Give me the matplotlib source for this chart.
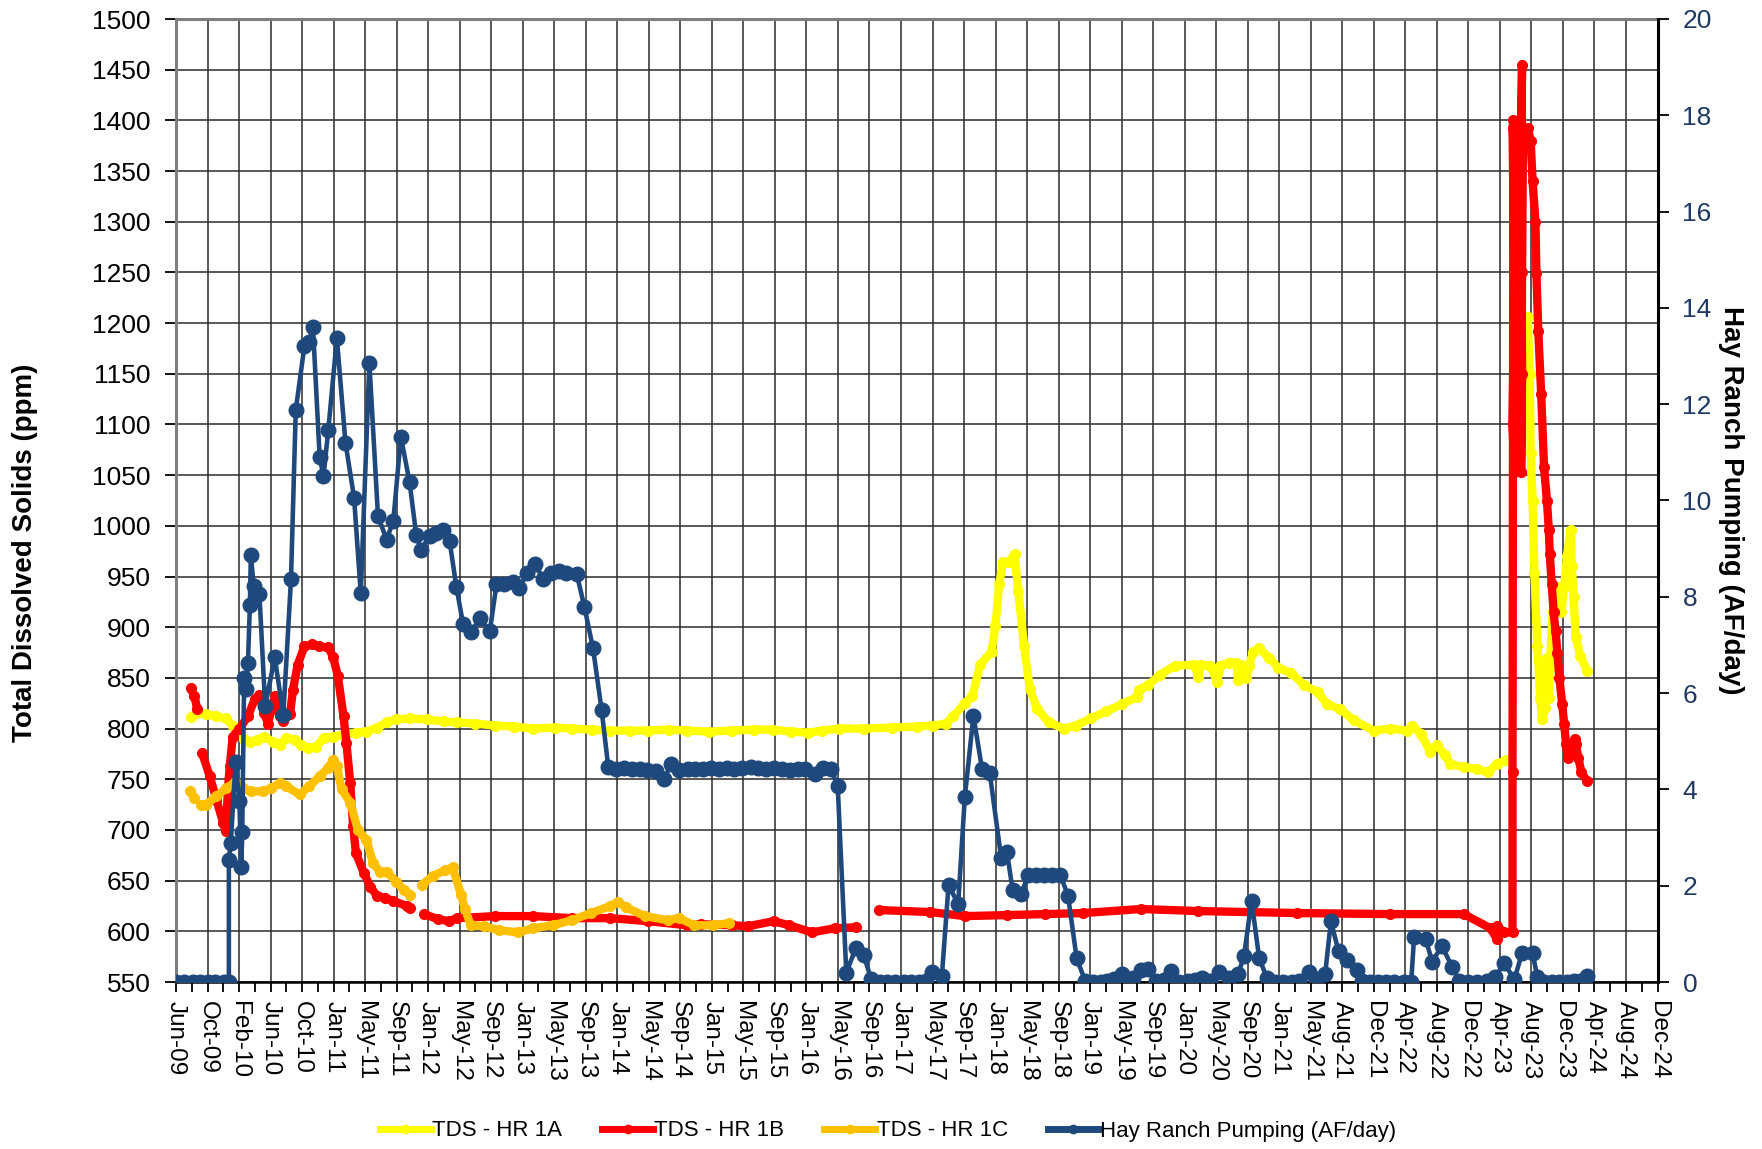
import numpy as np
import matplotlib
matplotlib.use("Agg")
import matplotlib.pyplot as plt
from matplotlib.lines import Line2D

plt.rcParams['font.family'] = ['Liberation Sans', 'DejaVu Sans']

nan = float('nan')

# ---------------- data ----------------
tick_labels = ["Jun-09", "Oct-09", "Feb-10", "Jun-10", "Oct-10", "Jan-11", "May-11", "Sep-11",
               "Jan-12", "May-12", "Sep-12", "Jan-13", "May-13", "Sep-13", "Jan-14", "May-14",
               "Sep-14", "Jan-15", "May-15", "Sep-15", "Jan-16", "May-16", "Sep-16", "Jan-17",
               "May-17", "Sep-17", "Jan-18", "May-18", "Sep-18", "Jan-19", "May-19", "Sep-19",
               "Jan-20", "May-20", "Sep-20", "Jan-21", "May-21", "Aug-21", "Dec-21", "Apr-22",
               "Aug-22", "Dec-22", "Apr-23", "Aug-23", "Dec-23", "Apr-24", "Aug-24", "Dec-24"]
axis_start_year = 2009.417
axis_end_year = 2024.917

# TDS - HR 1A (ppm)
hr1a_year = [2009.57, 2009.63, 2009.73, 2009.84, 2009.94, 2010.01, 2010.06, 2010.13, 2010.19, 2010.26,
             2010.34, 2010.43, 2010.50, 2010.57, 2010.66, 2010.73, 2010.80, 2010.88, 2010.97, 2011.06,
             2011.16, 2011.30, 2011.41, 2011.52, 2011.62, 2011.72, 2011.87, 2012.04, 2012.22, 2012.36,
             2012.55, 2012.75, 2012.95, 2013.15, 2013.38, 2013.56, 2013.77, 2013.96, 2014.17, 2014.36,
             2014.57, 2014.76, 2014.99, 2015.23, 2015.46, 2015.66, 2015.85, 2016.03, 2016.18, 2016.35,
             2016.61, 2016.91, 2017.17, 2017.34, 2017.47, 2017.55, 2017.67, 2017.75, 2017.83, 2017.95,
             2017.99, 2018.03, 2018.07, 2018.13, 2018.19, 2018.23, 2018.29, 2018.35, 2018.43, 2018.55,
             2018.71, 2018.83, 2018.99, 2019.15, 2019.31, 2019.47, 2019.49, 2019.59, 2019.71, 2019.87,
             2020.07, 2020.11, 2020.14, 2020.24, 2020.31, 2020.34, 2020.43, 2020.51, 2020.53, 2020.56,
             2020.61, 2020.64, 2020.69, 2020.75, 2020.85, 2020.95, 2021.08, 2021.22, 2021.36, 2021.46,
             2021.60, 2021.74, 2021.95, 2022.12, 2022.30, 2022.35, 2022.44, 2022.54, 2022.61, 2022.69,
             2022.75, 2022.89, 2023.03, 2023.14, 2023.24, 2023.33, 2023.45,
             2023.56, 2023.58, 2023.59, 2023.61, 2023.63, 2023.66, 2023.69, 2023.71, 2023.74, 2023.76,
             2023.78, 2023.79, 2023.82, 2023.87, 2023.91, 2023.94, 2023.97, 2024.01, 2024.02, 2024.04,
             2024.06, 2024.11, 2024.18]
hr1a_tds = [811, 815, 814, 812, 810, 803, 799, 790, 787, 789,
            792, 787, 784, 791, 789, 784, 781, 782, 791, 792,
            794, 796, 797, 801, 806, 809, 810, 809, 807, 806,
            805, 803, 802, 800, 801, 800, 799, 798, 798, 798,
            799, 798, 797, 798, 799, 799, 797, 796, 798, 800,
            800, 801, 802, 803, 805, 812, 825, 832, 863, 876,
            901, 943, 964, 964, 972, 936, 881, 839, 819, 806,
            800, 803, 810, 817, 824, 831, 838, 843, 853, 862,
            863, 851, 863, 862, 846, 862, 865, 865, 848, 863,
            850, 862, 876, 879, 870, 860, 855, 843, 836, 824,
            819, 808, 798, 800, 798, 803, 795, 777, 784, 774,
            765, 762, 760, 757, 765, 769, nan,
            1206, 1150, 1072, 1025, 953, 881, 830, 809, 820, 870,
            830, 860, 915, 940, 915, 940, 970, 996, 960, 930,
            890, 872, 857]

# TDS - HR 1B (ppm)
hr1b_year = [2009.57, 2009.61, 2009.64, 2009.66,
             2009.69, 2009.77, 2009.84, 2009.91, 2009.94, 2009.96, 2009.98, 2010.01, 2010.08, 2010.17,
             2010.24, 2010.29, 2010.34, 2010.38, 2010.45, 2010.50, 2010.54, 2010.61, 2010.64, 2010.69,
             2010.76, 2010.84, 2010.91, 2011.01, 2011.06, 2011.11, 2011.17, 2011.20, 2011.24, 2011.27,
             2011.30, 2011.38, 2011.45, 2011.52, 2011.60, 2011.69, 2011.83, 2011.87, 2011.94,
             2012.01, 2012.16, 2012.27, 2012.36, 2012.75, 2013.15, 2013.56, 2013.96, 2014.36, 2014.76,
             2014.91, 2015.23, 2015.40, 2015.67, 2015.83, 2016.07, 2016.31, 2016.53, 2016.65,
             2016.77, 2017.31, 2017.67, 2018.11, 2018.51, 2018.91, 2019.51, 2020.11, 2021.15, 2022.12,
             2022.89, 2023.17, 2023.24, 2023.24, 2023.31, 2023.40, 2023.40, 2023.41, 2023.40, 2023.42,
             2023.40, 2023.42, 2023.43, 2023.42, 2023.48, 2023.50, 2023.49, 2023.50, 2023.49, 2023.50,
             2023.51, 2023.56, 2023.59, 2023.61, 2023.64, 2023.65, 2023.67, 2023.70, 2023.73, 2023.76,
             2023.78, 2023.79, 2023.81, 2023.83, 2023.85, 2023.87, 2023.89, 2023.92, 2023.94, 2023.96,
             2023.98, 2024.01, 2024.05, 2024.06, 2024.09, 2024.12, 2024.18]
hr1b_tds = [840, 832, 819, nan,
            776, 753, 730, 707, 699, 740, 763, 792, 800, 812,
            829, 833, 815, 805, 832, 812, 807, 814, 838, 863,
            881, 883, 881, 880, 871, 852, 812, 786, 746, 704,
            677, 658, 644, 635, 633, 630, 625, 623, nan,
            617, 612, 610, 613, 615, 615, 613, 613, 610, 606,
            607, 606, 605, 610, 606, 599, 603, 604, nan,
            621, 619, 615, 616, 617, 618, 622, 620, 618, 617,
            617, 603, 592, 605, 599, 599, 757, 1400, 1392, 1250,
            1100, 1053, 1200, 1350, 1300, 1455, 1350, 1150, 1053, 1250,
            1390, 1392, 1380, 1340, 1300, 1249, 1192, 1130, 1058, 1025,
            996, 972, 943, 915, 896, 875, 850, 824, 805, 785,
            771, 776, 790, 785, 771, 757, 748]

# TDS - HR 1C (ppm)
hr1c_year = [2009.56, 2009.61, 2009.65,
             2009.68, 2009.73, 2009.84, 2009.94, 2010.03, 2010.12, 2010.20, 2010.33, 2010.41, 2010.50,
             2010.57, 2010.71, 2010.81, 2010.92, 2011.01, 2011.06, 2011.10, 2011.15, 2011.24, 2011.32,
             2011.41, 2011.48, 2011.55, 2011.62, 2011.72, 2011.80, 2011.87, 2011.93,
             2011.99, 2012.11, 2012.23, 2012.31, 2012.40, 2012.44, 2012.50, 2012.64, 2012.80, 2013.00,
             2013.15, 2013.36, 2013.56, 2013.76, 2013.96, 2014.04, 2014.12, 2014.32, 2014.56, 2014.68,
             2014.84, 2015.04, 2015.20]
hr1c_tds = [738, 732, nan,
            725, 725, 733, 741, 747, 741, 738, 738, 741, 746,
            743, 735, 743, 753, 761, 769, 763, 740, 727, 700,
            690, 667, 659, 659, 649, 641, 636, nan,
            646, 655, 660, 663, 636, 622, 606, 605, 601, 599,
            603, 606, 611, 618, 625, 629, 624, 615, 611, 613,
            606, 606, 608]

# Hay Ranch Pumping (AF/day)
pump_year = [2009.42, 2009.50, 2009.59, 2009.67, 2009.75, 2009.83, 2009.92, 2009.97, 2009.97, 2009.99,
             2010.04, 2010.08, 2010.10, 2010.11, 2010.13, 2010.15, 2010.17, 2010.19, 2010.20, 2010.23,
             2010.29, 2010.35, 2010.45, 2010.54, 2010.62, 2010.67, 2010.76, 2010.81, 2010.85, 2010.92,
             2010.96, 2011.01, 2011.10, 2011.19, 2011.28, 2011.35, 2011.44, 2011.53, 2011.62, 2011.69,
             2011.77, 2011.86, 2011.93, 2011.98, 2012.07, 2012.14, 2012.21, 2012.28, 2012.35, 2012.42,
             2012.50, 2012.60, 2012.70, 2012.77, 2012.85, 2012.94, 2013.01, 2013.09, 2013.17, 2013.26,
             2013.34, 2013.42, 2013.50, 2013.61, 2013.69, 2013.78, 2013.87, 2013.94, 2014.02, 2014.10,
             2014.19, 2014.27, 2014.35, 2014.44, 2014.52, 2014.60, 2014.68, 2014.77, 2014.85, 2014.93,
             2015.01, 2015.10, 2015.18, 2015.26, 2015.34, 2015.43, 2015.51, 2015.59, 2015.67, 2015.76,
             2015.84, 2015.92, 2016.00, 2016.10, 2016.19, 2016.27, 2016.34, 2016.43, 2016.53, 2016.61,
             2016.69, 2016.78, 2016.86, 2016.94, 2017.03, 2017.11, 2017.19, 2017.26, 2017.33, 2017.43,
             2017.50, 2017.60, 2017.67, 2017.76, 2017.85, 2017.93, 2018.05, 2018.11, 2018.17, 2018.26,
             2018.33, 2018.41, 2018.50, 2018.58, 2018.67, 2018.75, 2018.84, 2018.93, 2019.01, 2019.09,
             2019.16, 2019.23, 2019.31, 2019.37, 2019.43, 2019.51, 2019.59, 2019.67, 2019.75, 2019.83,
             2019.91, 2020.00, 2020.08, 2020.15, 2020.24, 2020.33, 2020.43, 2020.53, 2020.59, 2020.67,
             2020.75, 2020.83, 2020.91, 2021.00, 2021.09, 2021.17, 2021.27, 2021.34, 2021.44, 2021.50,
             2021.58, 2021.67, 2021.77, 2021.83, 2021.91, 2021.99, 2022.08, 2022.16, 2022.26, 2022.34,
             2022.37, 2022.49, 2022.56, 2022.66, 2022.77, 2022.84, 2022.93, 2023.03, 2023.13, 2023.22,
             2023.31, 2023.42, 2023.50, 2023.61, 2023.66, 2023.73, 2023.81, 2023.89, 2023.97, 2024.04,
             2024.11, 2024.18]
pump_afd = [0, 0, 0, 0, 0, 0, 0, 0, 2.54, 2.89,
            4.56, 3.76, 2.38, 3.11, 6.31, 6.09, 6.63, 7.83, 8.87, 8.23,
            8.05, 5.73, 6.74, 5.55, 8.36, 11.88, 13.2, 13.3, 13.6, 10.9,
            10.5, 11.46, 13.37, 11.2, 10.06, 8.07, 12.86, 9.68, 9.19, 9.57,
            11.32, 10.39, 9.29, 8.98, 9.26, 9.33, 9.38, 9.15, 8.21, 7.44,
            7.26, 7.56, 7.28, 8.26, 8.26, 8.31, 8.19, 8.49, 8.68, 8.38,
            8.49, 8.54, 8.50, 8.47, 7.79, 6.93, 5.65, 4.46, 4.42, 4.45,
            4.42, 4.43, 4.40, 4.38, 4.22, 4.52, 4.40, 4.42, 4.43, 4.42,
            4.44, 4.43, 4.45, 4.43, 4.45, 4.47, 4.45, 4.43, 4.44, 4.42,
            4.41, 4.43, 4.42, 4.31, 4.45, 4.42, 4.07, 0.19, 0.71, 0.57,
            0.06, 0, 0, 0, 0, 0, 0, 0.02, 0.20, 0.13,
            2.02, 1.61, 3.84, 5.53, 4.42, 4.35, 2.58, 2.71, 1.91, 1.82,
            2.22, 2.22, 2.22, 2.22, 2.22, 1.79, 0.49, 0.02, 0, 0,
            0.02, 0.07, 0.17, 0.05, 0.09, 0.24, 0.28, 0.02, 0.05, 0.22,
            0, 0.02, 0.05, 0.09, 0.02, 0.20, 0.08, 0.17, 0.53, 1.68,
            0.49, 0.09, 0, 0, 0, 0.02, 0.20, 0.06, 0.17, 1.26,
            0.64, 0.46, 0.24, 0.02, 0, 0, 0, 0, 0, 0,
            0.93, 0.90, 0.42, 0.75, 0.31, 0.02, 0, 0, 0.02, 0.10,
            0.39, 0.06, 0.60, 0.60, 0.10, 0, 0, 0, 0, 0.02,
            0.02, 0.13]

# ---------------- figure ----------------
W, H = 1762, 1149
fig = plt.figure(figsize=(W / 100, H / 100), dpi=100)
L, R, T, B = 176, 1657.5, 19, 982
ax = fig.add_axes([L / W, 1 - B / H, (R - L) / W, (B - T) / H])
ax2 = ax.twinx()

YELLOW = '#FFFF00'
RED = '#FF0000'
ORANGE = '#FFC000'
BLUE = '#1F497D'

lw_tds = 6.0
ms_tds = 7.0
ax.plot(hr1a_year, hr1a_tds, color=YELLOW, lw=lw_tds, marker='o', ms=ms_tds, zorder=3,
        solid_capstyle='round', solid_joinstyle='round')
ax.plot(hr1b_year, hr1b_tds, color=RED, lw=lw_tds, marker='o', ms=ms_tds, zorder=4,
        solid_capstyle='round', solid_joinstyle='round')
ax.plot(hr1c_year, hr1c_tds, color=ORANGE, lw=lw_tds, marker='o', ms=ms_tds, zorder=5,
        solid_capstyle='round', solid_joinstyle='round')
ax2.plot(pump_year, pump_afd, color=BLUE, lw=3.3, marker='o', ms=10.5, zorder=6,
         solid_joinstyle='round')

# axes limits & ticks
ax.set_xlim(axis_start_year, axis_end_year)
ax.set_ylim(550, 1500)
ax2.set_ylim(0, 20)
major = np.linspace(axis_start_year, axis_end_year, len(tick_labels))
minor = (major[:-1] + major[1:]) / 2
ax.set_xticks(major)
ax.set_xticks(minor, minor=True)
ax.set_xticklabels(tick_labels, rotation=270, fontsize=17.5)
ax.set_yticks(np.arange(550, 1501, 50))
ax2.set_yticks(np.arange(0, 21, 2))

ax.tick_params(axis='x', which='major', direction='out', length=7, width=1.3, pad=7, colors='black')
ax.tick_params(axis='x', which='minor', direction='out', length=7, width=1.3)
ax.tick_params(axis='y', which='major', direction='out', length=8, width=1.3, pad=10,
               labelsize=19, colors='black')
ax2.tick_params(axis='y', which='major', direction='out', length=8, width=1.3, pad=10,
                labelsize=19, labelcolor='#1F3864', color='black')

ax.grid(True, which='major', axis='both', color='#2b2b2b', lw=1.1, zorder=0)
ax.set_axisbelow(True)

for sp in ['left', 'top']:
    ax.spines[sp].set_color('#7f7f7f')
    ax.spines[sp].set_linewidth(2.2)
ax.spines['bottom'].set_color('black')
ax.spines['bottom'].set_linewidth(1.8)
ax2.spines['right'].set_color('black')
ax2.spines['right'].set_linewidth(2.2)
for sp in ['left', 'top', 'bottom']:
    ax2.spines[sp].set_visible(False)

# axis titles
fig.text(25 / W, 1 - 553 / H, 'Total Dissolved Solids (ppm)', rotation=90, ha='center', va='center',
         fontsize=20, fontweight='bold', color='black')
fig.text(1731 / W, 1 - 500 / H, 'Hay Ranch Pumping (AF/day)', rotation=270, ha='center', va='center',
         fontsize=20, fontweight='bold', color='black')

# legend
handles = [
    Line2D([], [], color=YELLOW, lw=5, marker='o', ms=6),
    Line2D([], [], color=RED, lw=5, marker='o', ms=6),
    Line2D([], [], color=ORANGE, lw=5, marker='o', ms=6),
    Line2D([], [], color=BLUE, lw=5, marker='o', ms=6),
]
labels = ['TDS - HR 1A', 'TDS - HR 1B', 'TDS - HR 1C', 'Hay Ranch Pumping (AF/day)']
fig.legend(handles, labels, loc='center', bbox_to_anchor=(888 / W, 1 - 1131 / H), ncol=4,
           frameon=False, fontsize=16, handlelength=2.3, handletextpad=0.05, columnspacing=1.8)

fig.savefig('out.png', dpi=100)
